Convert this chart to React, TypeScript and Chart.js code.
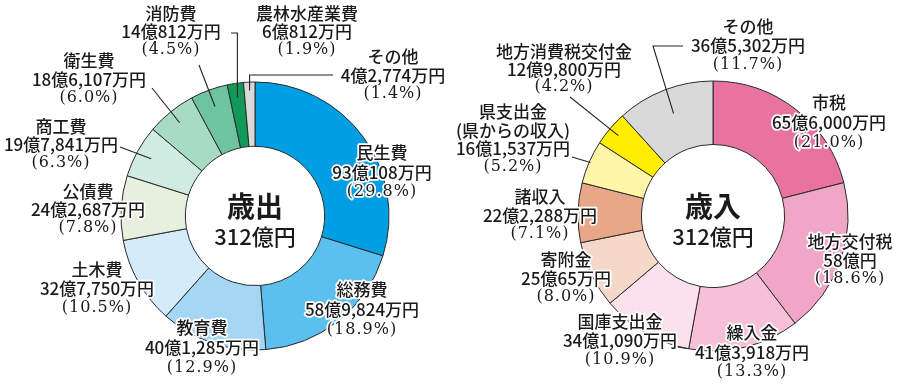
import { useEffect, useRef } from 'react';
import { Chart, registerables } from 'chart.js';

Chart.register(...registerables);

// ---- Data (values in 万円) ----
const expenseCategories = ['民生費', '総務費', '教育費', '土木費', '公債費', '商工費', '衛生費', '消防費', '農林水産業費', 'その他'];
const expenseValues = [930108, 589824, 401285, 327750, 242687, 197841, 186107, 140812, 60812, 42774];
const expensePercents = [29.8, 18.9, 12.9, 10.5, 7.8, 6.3, 6.0, 4.5, 1.9, 1.4];
const expenseColors = ['#009ee2', '#5cc0ee', '#a5d7f5', '#d4ebfa', '#e6f0dc', '#d0ece2', '#a8dbc4', '#6ec3a0', '#11995a', '#d9d9d9'];

const revenueCategories = ['市税', '地方交付税', '繰入金', '国庫支出金', '寄附金', '諸収入', '県支出金', '地方消費税交付金', 'その他'];
const revenueSubNames = ['', '', '', '', '', '', '(県からの収入)', '', ''];
const revenueValues = [656000, 580000, 413918, 341090, 250065, 222288, 161537, 129800, 365302];
const revenuePercents = [21.0, 18.6, 13.3, 10.9, 8.0, 7.1, 5.2, 4.2, 11.7];
const revenueColors = ['#e9739f', '#f0a7c7', '#f5c0d8', '#fae1eb', '#f6d8ca', '#e8a888', '#fff6aa', '#ffee00', '#d9d9d9'];

const expenseTitle = '歳出';
const revenueTitle = '歳入';
const totalText = '312億円';

// ---- Layout (label anchors, chart-local px) ----
const expenseLabelPos = [
  { x: 382, y: 153, lh: 19.5 },
  { x: 362, y: 290, lh: 20 },
  { x: 202, y: 328, lh: 20 },
  { x: 97, y: 270, lh: 19 },
  { x: 88, y: 192, lh: 18 },
  { x: 61, y: 127, lh: 18 },
  { x: 89, y: 61, lh: 18.5 },
  { x: 171, y: 14, lh: 18 },
  { x: 307, y: 14, lh: 18 },
  { x: 393, y: 57, lh: 18.5 },
];
const expenseLeaders = [
  { index: 7, from: [[199, 65]], t: 0.5, r: 0.73 },
  { index: 8, from: [[231, 33]], elbow: true, t: 0.5, r: 0.78 },
  { index: 9, from: [[333, 75]], elbow: true, t: 0.5, r: 0.87 },
  { index: 6, from: [[152, 88]], t: 0.5, r: 0.78 },
  { index: 5, from: [[120, 147]], t: 0.5, r: 0.76 },
];
const revenueLabelPos = [
  { x: 379, y: 103, lh: 20 },
  { x: 400, y: 242, lh: 18.5 },
  { x: 302, y: 333, lh: 19.5 },
  { x: 170, y: 322, lh: 19 },
  { x: 116, y: 260, lh: 18.5 },
  { x: 90, y: 197, lh: 18.5 },
  { x: 63, y: 112, lh: 18.3 },
  { x: 114, y: 52, lh: 17.5 },
  { x: 298, y: 27, lh: 19 },
];
const revenueLeaders = [
  { index: 8, from: [[233, 46], [203, 46]], t: 0.5, r: 0.6 },
  { index: 7, from: [[120, 97]], t: 0.5, r: 0.83 },
  { index: 6, from: [[122, 157]], t: 0.5, r: 0.98 },
  { index: 3, from: [[228, 347]], t: 0.02, r: 1.0 },
];

function amountText(v: number): string {
  const oku = Math.floor(v / 10000);
  const man = v % 10000;
  if (man === 0) return `${oku}億円`;
  return `${oku}億${man.toLocaleString('en-US')}万円`;
}

const SANS = "'Noto Sans CJK JP', 'Noto Sans', sans-serif";
const SERIF = "'DejaVu Serif', 'Liberation Serif', serif";

function makeLabelPlugin(cfg: any) {
  return {
    id: 'donutLabels',
    afterDatasetsDraw(chart: any) {
      const ctx = chart.ctx as CanvasRenderingContext2D;
      const meta = chart.getDatasetMeta(0);
      ctx.save();
      // leaders
      ctx.strokeStyle = '#222';
      ctx.lineWidth = 1.1;
      cfg.leaders.forEach((ld: any) => {
        const arc = meta.data[ld.index];
        const p = arc.getProps(['x', 'y', 'startAngle', 'endAngle', 'innerRadius', 'outerRadius'], true);
        const a = p.startAngle + (p.endAngle - p.startAngle) * ld.t;
        const r = p.innerRadius + (p.outerRadius - p.innerRadius) * ld.r;
        const ex = p.x + r * Math.cos(a);
        const ey = p.y + r * Math.sin(a);
        ctx.beginPath();
        ctx.moveTo(ld.from[0][0], ld.from[0][1]);
        for (let i = 1; i < ld.from.length; i++) ctx.lineTo(ld.from[i][0], ld.from[i][1]);
        if (ld.elbow) ctx.lineTo(ex, ld.from[ld.from.length - 1][1]);
        ctx.lineTo(ex, ey);
        ctx.stroke();
      });
      // labels
      ctx.textAlign = 'center';
      ctx.textBaseline = 'middle';
      ctx.lineJoin = 'round';
      cfg.categories.forEach((name: string, i: number) => {
        const pos = cfg.positions[i];
        const lines: { t: string; f: string; ls: string }[] = [];
        lines.push({ t: name, f: `500 17px ${SANS}`, ls: '0px' });
        if (cfg.subNames && cfg.subNames[i]) lines.push({ t: cfg.subNames[i], f: `500 17px ${SANS}`, ls: '0px' });
        lines.push({ t: amountText(cfg.values[i]), f: `500 17px ${SANS}`, ls: '0px' });
        lines.push({ t: `(${cfg.percents[i].toFixed(1)}%)`, f: `16px ${SERIF}`, ls: '1px' });
        lines.forEach((ln, k) => {
          const y = pos.y + k * pos.lh;
          ctx.font = ln.f;
          (ctx as any).letterSpacing = ln.ls;
          ctx.strokeStyle = '#ffffff';
          ctx.lineWidth = 3.5;
          ctx.strokeText(ln.t, pos.x, y);
          ctx.fillStyle = '#1a1a1a';
          ctx.fillText(ln.t, pos.x, y);
        });
      });
      (ctx as any).letterSpacing = '0px';
      // center text
      const c = meta.data[0].getProps(['x', 'y'], true);
      ctx.fillStyle = '#1a1a1a';
      ctx.font = `bold 28px ${SANS}`;
      ctx.fillText(cfg.title, c.x, c.y - 10);
      ctx.font = `500 22px ${SANS}`;
      ctx.fillText(totalText, c.x, c.y + 21);
      ctx.restore();
    },
  };
}

function Donut(props: any) {
  const ref = useRef<HTMLCanvasElement>(null);
  useEffect(() => {
    const chart = new Chart(ref.current!, {
      type: 'doughnut',
      data: {
        labels: props.categories,
        datasets: [
          {
            data: props.values,
            backgroundColor: props.colors,
            borderColor: '#2a2a2a',
            borderWidth: 1,
          },
        ],
      },
      options: {
        responsive: false,
        animation: false,
        cutout: props.cutout,
        layout: { padding: props.padding },
        plugins: { legend: { display: false }, tooltip: { enabled: false } },
        events: [],
      },
      plugins: [makeLabelPlugin(props)],
    });
    return () => chart.destroy();
  }, []);
  return (
    <canvas
      ref={ref}
      width={450}
      height={387}
      style={{ position: 'absolute', left: props.left, top: 0, width: 450, height: 387 }}
    />
  );
}

export default function App() {
  useEffect(() => {
    document.body.style.margin = '0';
    document.body.style.background = '#ffffff';
  }, []);
  return (
    <div style={{ position: 'fixed', left: 0, top: 0, width: 900, height: 387, background: '#fff' }}>
      <Donut
        left={0}
        title={expenseTitle}
        categories={expenseCategories}
        values={expenseValues}
        percents={expensePercents}
        colors={expenseColors}
        positions={expenseLabelPos}
        leaders={expenseLeaders}
        cutout="52%"
        padding={{ left: 120.5, right: 60.5, top: 81.5, bottom: 36.5 }}
      />
      <Donut
        left={450}
        title={revenueTitle}
        categories={revenueCategories}
        subNames={revenueSubNames}
        values={revenueValues}
        percents={revenuePercents}
        colors={revenueColors}
        positions={revenueLabelPos}
        leaders={revenueLeaders}
        cutout="53%"
        padding={{ left: 127.5, right: 51.5, top: 80.5, bottom: 35.5 }}
      />
    </div>
  );
}
